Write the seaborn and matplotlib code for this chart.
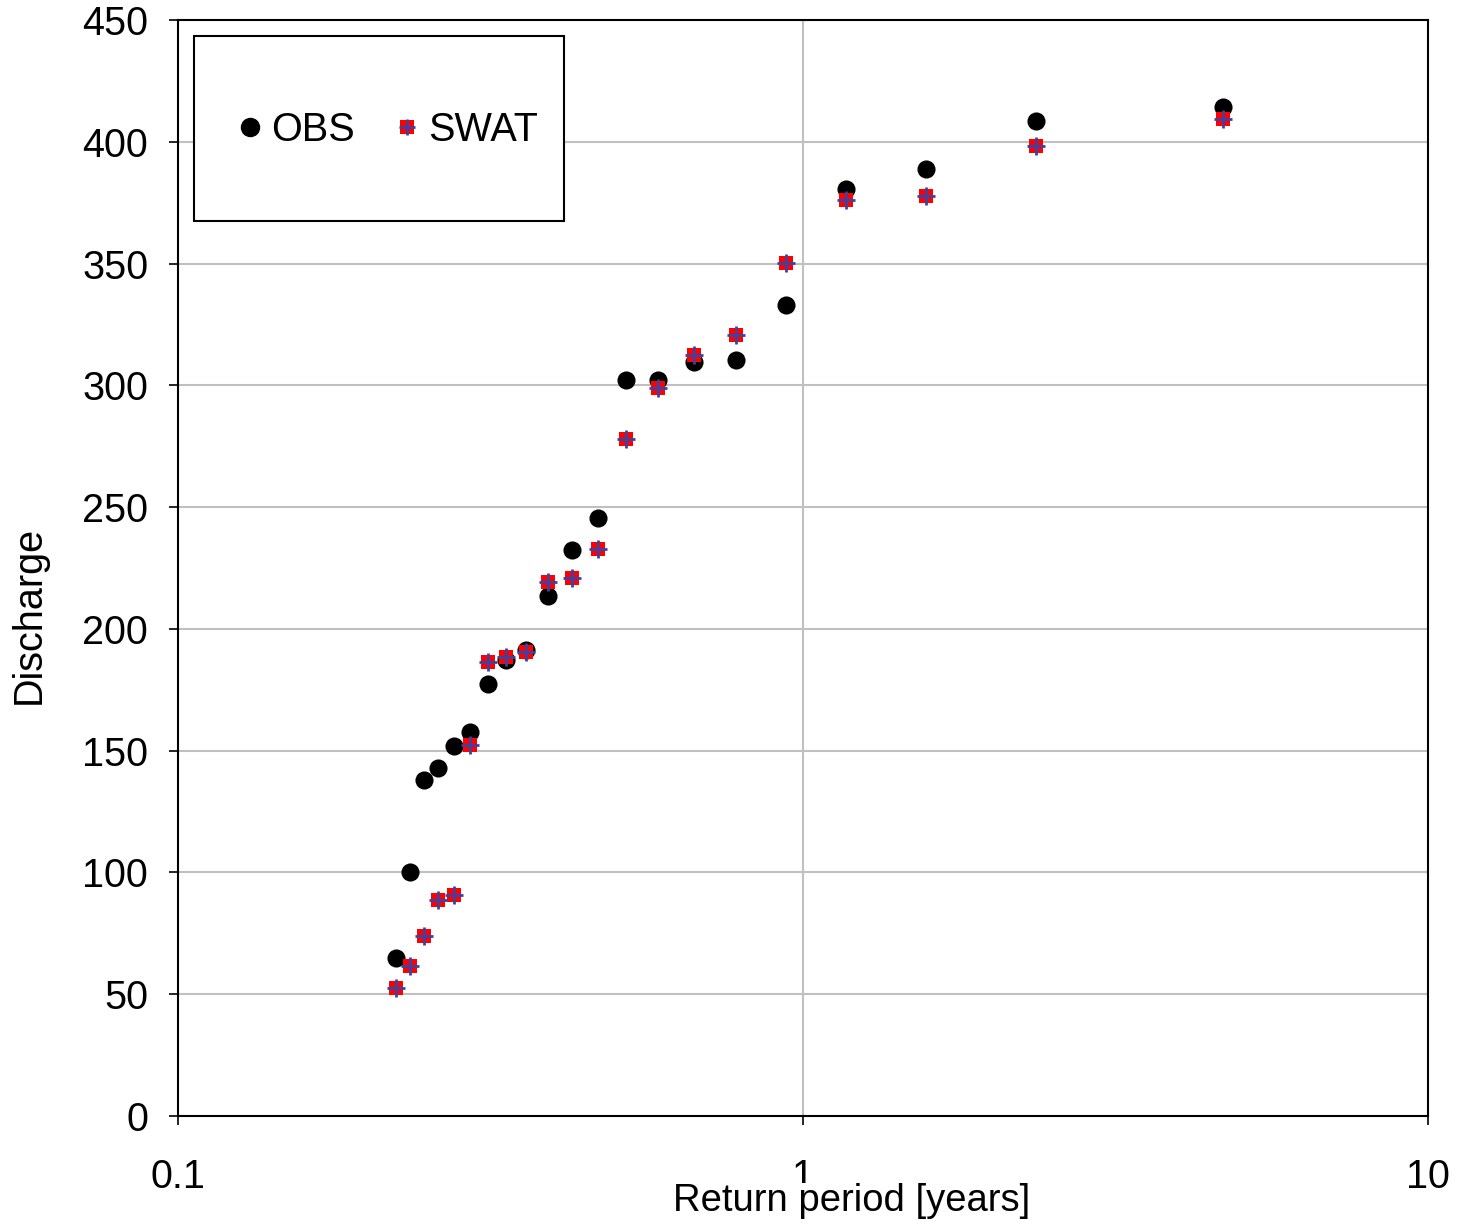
import numpy as np
import pandas as pd
import matplotlib
matplotlib.use('Agg')
import matplotlib.pyplot as plt
import seaborn as sns
from matplotlib.lines import Line2D
from matplotlib.patches import Rectangle

# return periods [years]
return_period = [0.2233, 0.2351, 0.2475, 0.2606, 0.2765, 0.2933, 0.3133,
                 0.3348, 0.3604, 0.3908, 0.4270, 0.4699, 0.5212, 0.5861,
                 0.6692, 0.7816, 0.9393, 1.1718, 1.5738, 2.3597, 4.699]
obs = [64.9, 100.2, 138.0, 142.9, 151.9, 157.7, 177.4, 187.2, 191.3, 213.5,
       232.4, 245.5, 302.2, 302.2, 309.6, 310.4, 333.0, 380.6, 388.8, 408.5,
       414.3]
swat = [52.6, 61.6, 73.9, 88.7, 90.7, 152.3, 186.4, 188.5, 190.5, 219.2,
        220.9, 232.8, 278.0, 298.9, 312.4, 320.7, 350.2, 376.1, 377.7, 398.3,
        409.3]

df = pd.DataFrame({'T': return_period, 'OBS': obs, 'SWAT': swat})

sns.set_style('white')
plt.rcParams['font.family'] = ['Liberation Sans', 'DejaVu Sans']
plt.rcParams['text.color'] = 'black'
plt.rcParams['axes.labelcolor'] = 'black'
plt.rcParams['xtick.color'] = 'black'
plt.rcParams['ytick.color'] = 'black'

FS = 28.5
W, H = 1250, 1096  # axes size in px

fig = plt.figure(figsize=(14.58, 12.25), dpi=100)
ax = fig.add_axes([178/1458, 109/1225, W/1458, H/1225])

sns.scatterplot(data=df, x='T', y='OBS', ax=ax, color='black', marker='o',
                s=170, linewidth=0, zorder=3)
sns.scatterplot(data=df, x='T', y='SWAT', ax=ax, color='#ff0000', marker='s',
                s=100, linewidth=0, zorder=4)
sns.scatterplot(data=df, x='T', y='SWAT', ax=ax, color='#4040a0', marker='+',
                s=150, linewidth=2, zorder=5)

ax.set_xscale('log')
ax.set_xlim(0.1, 10)
ax.set_ylim(0, 450)
ax.set_xticks([0.1, 1, 10])
ax.set_xticklabels(['0.1', '1', '10'])
ax.xaxis.set_minor_locator(matplotlib.ticker.NullLocator())
ax.set_yticks(np.arange(0, 451, 50))

ax.grid(False)
ax.yaxis.grid(True, color='#c0c0c0', linewidth=1.5)
ax.axvline(1, color='#c0c0c0', linewidth=1.5, zorder=0)
ax.set_axisbelow(True)

for sp in ax.spines.values():
    sp.set_color('black')
    sp.set_linewidth(1.5)

ax.tick_params(axis='both', which='major', direction='out', length=6.5,
               width=1.2, color='black', labelcolor='black', labelsize=FS,
               bottom=True, left=True)
ax.tick_params(axis='x', pad=24)
ax.tick_params(axis='y', pad=15)

# the x title sits on an opaque box that covers the lower part of the "1"
ax.set_xlabel('Return period [years]', fontsize=27.5,
              bbox=dict(facecolor='white', edgecolor='none', pad=0))
ax.set_ylabel('Discharge', fontsize=FS)
ax.xaxis.set_label_coords((852 - 178) / W, -(1201 - 1116) / H)
ax.yaxis.set_label_coords(-(178 - 29) / W, (1116 - 615) / H)
ax.xaxis.label.set_va('center')
ax.yaxis.label.set_va('center')

# legend frame
ax.add_patch(Rectangle(((194 - 178) / W, (1116 - 221) / H), 370 / W, 185 / H,
                       transform=ax.transAxes, facecolor='white',
                       edgecolor='black', linewidth=1.5, zorder=6))

h_obs = Line2D([], [], linestyle='none', marker='o', color='black',
               markersize=13)
h_sq = Line2D([], [], linestyle='none', marker='s', color='#ff0000',
              markersize=10, markeredgewidth=0)
h_pl = Line2D([], [], linestyle='none', marker='+', color='#4040a0',
              markersize=11, markeredgewidth=2)
leg = ax.legend([h_obs, (h_sq, h_pl)], ['OBS', 'SWAT'], ncol=2,
                loc='center', bbox_to_anchor=((388 - 178) / W, (1116 - 130) / H),
                fontsize=FS, frameon=False, borderpad=0,
                handlelength=0.6, handletextpad=0.25,
                columnspacing=1.0, borderaxespad=0)
leg.set_zorder(7)

fig.savefig('out.png', dpi=100)
